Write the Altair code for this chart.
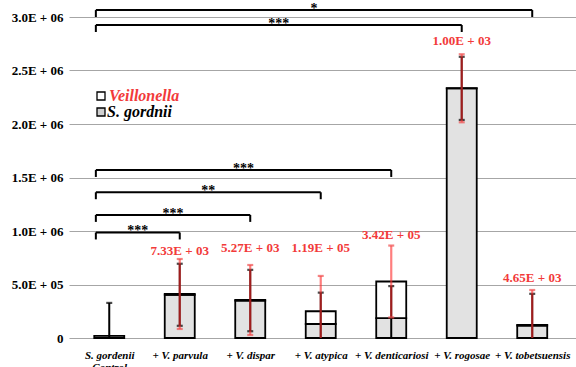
import json
import altair as alt
import pandas as pd

# ---- data -------------------------------------------------------------
categories = ["S. gordenii Control", "+ V. parvula", "+ V. dispar", "+ V. atypica",
              "+ V. denticariosi", "+ V. rogosae", "+ V. tobetsuensis"]
x_label_lines = [["S. gordenii", "Control"], ["+ V. parvula"], ["+ V. dispar"],
                 ["+ V. atypica"], ["+ V. denticariosi"], ["+ V. rogosae"],
                 ["+ V. tobetsuensis"]]
gordonii = [2.0e4, 4.04e5, 3.50e5, 1.31e5, 1.86e5, 2.333e6, 1.17e5]
gordonii_err = [3.08e5, 2.90e5, 2.87e5, 2.93e5, 2.99e5, 2.95e5, 2.96e5]
veillonella = [0, 7.33e3, 5.27e3, 1.19e5, 3.42e5, 1.00e3, 4.65e3]
veillonella_err = [0, 3.27e5, 3.27e5, 3.30e5, 3.36e5, 3.18e5, 3.27e5]

y_ticks = [0, 5e5, 1e6, 1.5e6, 2e6, 2.5e6, 3e6]
y_tick_labels = ["0", "5.0E + 05", "1.0E + 06", "1.5E + 06", "2.0E + 06",
                 "2.5E + 06", "3.0E + 06"]

# significance brackets (control vs. each co-culture)
bracket_to = [1, 2, 3, 4, 5, 6]
bracket_stars = ["***", "***", "**", "***", "***", "*"]
bracket_level = [0.986e6, 1.15e6, 1.362e6, 1.57e6, 2.925e6, 3.065e6]

# height of the Veillonella count labels
label_level = [None, 8.13e5, 8.41e5, 8.41e5, 9.63e5, 2.779e6, 5.64e5]

# ---- styling ----------------------------------------------------------
SERIF = "Liberation Serif"
RED = "#f23a3a"
DOTS = "#e2e2e2"
GRID = "#a6a6a6"

# ---- tables -----------------------------------------------------------
rows = []
for i, cat in enumerate(categories):
    sg, v = gordonii[i], veillonella[i]
    total = sg + v
    rows.append(dict(
        idx=i, cat=cat, zero=0.0, sg=sg, v=v, total=total,
        sg_lo=max(0.0, sg - gordonii_err[i]), sg_hi=sg + gordonii_err[i],
        v_lo=max(0.0, total - veillonella_err[i]), v_hi=total + veillonella_err[i],
        has_v=veillonella_err[i] > 0,
        label=(f"{v:.2E}".replace("E+", "E + ") if v > 0 else ""),
        label_y=label_level[i],
    ))
df = pd.DataFrame(rows)

caps = []
for r in rows:
    caps.append(dict(idx=r["idx"], y=r["sg_hi"], kind="sg"))
    if r["sg"] - gordonii_err[r["idx"]] > 0:
        caps.append(dict(idx=r["idx"], y=r["sg_lo"], kind="sg"))
    if r["has_v"]:
        caps.append(dict(idx=r["idx"], y=r["v_hi"], kind="v"))
        if r["total"] - veillonella_err[r["idx"]] > 0:
            caps.append(dict(idx=r["idx"], y=r["v_lo"], kind="v"))
caps_df = pd.DataFrame(caps)

drop = 6.5e4
left_end = -0.19
br = pd.DataFrame(dict(
    x0=[left_end] * len(bracket_to), x1=bracket_to, level=bracket_level,
    low=[b - drop for b in bracket_level], stars=bracket_stars,
    mid=[(left_end + t) / 2 for t in bracket_to],
))

# ---- scales / axes ----------------------------------------------------
x_scale = alt.Scale(domain=[-0.5, 6.55], nice=False, zero=False)
y_scale = alt.Scale(domain=[0, 3e6], nice=False)

x_axis = alt.Axis(
    values=list(range(len(categories))),
    labelExpr=json.dumps(x_label_lines) + "[datum.value]",
    grid=False, domain=False, ticks=False, title=None,
    labelFont=SERIF, labelFontSize=11, labelFontWeight="bold",
    labelFontStyle="italic", labelColor="black", labelPadding=11,
    labelLineHeight=12, labelOverlap=False, labelFlush=False, labelBound=False,
)
y_axis = alt.Axis(
    values=y_ticks,
    labelExpr=json.dumps(y_tick_labels) + "[round(datum.value / 500000)]",
    grid=True, gridColor=GRID, gridWidth=1, domain=False, ticks=False, title=None,
    labelFont=SERIF, labelFontSize=13, labelFontWeight="bold",
    labelColor="black", labelPadding=6, labelOverlap=False,
)


def X(field):
    return alt.X(field, type="quantitative", scale=x_scale, axis=x_axis)


def Y(field):
    return alt.Y(field, type="quantitative", scale=y_scale, axis=y_axis)


base = alt.Chart(df)

sg_bar = base.mark_bar(size=30, orient="vertical", fill=DOTS, stroke="black",
                       strokeWidth=1.8).encode(x=X("idx"), y=Y("zero"), y2="sg:Q")

v_bar = base.transform_filter("datum.v > 0").mark_bar(
    size=30, orient="vertical", fill="white", stroke="black", strokeWidth=1.8
).encode(x=X("idx"), y=Y("sg"), y2="total:Q")

sg_err = base.mark_rule(color="black", strokeWidth=2).encode(
    x=X("idx"), y=Y("sg_lo"), y2="sg_hi:Q")

v_err = base.transform_filter("datum.has_v").mark_rule(
    color="#ff2e2e", opacity=0.62, strokeWidth=2.2
).encode(x=X("idx"), y=Y("v_lo"), y2="v_hi:Q")

cap_shape = "M-1,0L1,0"
sg_caps = alt.Chart(caps_df).transform_filter("datum.kind == 'sg'").mark_point(
    shape=cap_shape, size=36, stroke="black", strokeWidth=2.2, filled=False
).encode(x=X("idx"), y=Y("y"))

v_caps = alt.Chart(caps_df).transform_filter("datum.kind == 'v'").mark_point(
    shape=cap_shape, size=36, stroke="#f05050", strokeWidth=2.2, filled=False
).encode(x=X("idx"), y=Y("y"))

labels = base.transform_filter("datum.v > 0").mark_text(
    font=SERIF, fontSize=13, fontWeight="bold", color=RED, baseline="middle"
).encode(x=X("idx"), y=Y("label_y"), text="label:N")

# brackets
bb = alt.Chart(br)
br_h = bb.mark_rule(color="black", strokeWidth=2).encode(
    x=X("x0"), x2="x1:Q", y=Y("level"))
br_l = bb.mark_rule(color="black", strokeWidth=2).encode(
    x=X("x0"), y=Y("low"), y2="level:Q")
br_r = bb.mark_rule(color="black", strokeWidth=2).encode(
    x=X("x1"), y=Y("low"), y2="level:Q")
br_t = bb.mark_text(font=SERIF, fontSize=14, fontWeight="bold", fill="black",
                    baseline="alphabetic", dy=3).encode(
    x=X("mid"), y=Y("level"), text="stars:N")

# legend
legend_layers = []
for name, color, box_fill, ypix, xtext in [("Veillonella", RED, "white", 79, 40),
                                           ("S. gordnii", "black", "#cfcfcf", 95, 38)]:
    one = alt.Chart(pd.DataFrame({"name": [name]}))
    legend_layers.append(one.mark_point(
        shape="square", size=64, filled=True, fill=box_fill, stroke="black",
        strokeWidth=1.3, opacity=1
    ).encode(x=alt.value(32), y=alt.value(ypix)))
    legend_layers.append(one.mark_text(
        font=SERIF, fontSize=16, fontWeight="bold", fontStyle="italic",
        fill=color, align="left", baseline="middle"
    ).encode(x=alt.value(xtext), y=alt.value(ypix), text="name:N"))

chart = alt.layer(
    sg_bar, v_bar, sg_err, sg_caps, v_err, v_caps, labels,
    br_h, br_l, br_r, br_t, *legend_layers
).properties(
    width=507, height=321,
    padding={"left": 69, "top": 17, "right": 0, "bottom": 29},
    autosize=alt.AutoSizeParams(type="none"),
    background="white",
).configure_view(stroke=None)

chart.save("out.html", embed_options={"renderer": "svg", "actions": False})
